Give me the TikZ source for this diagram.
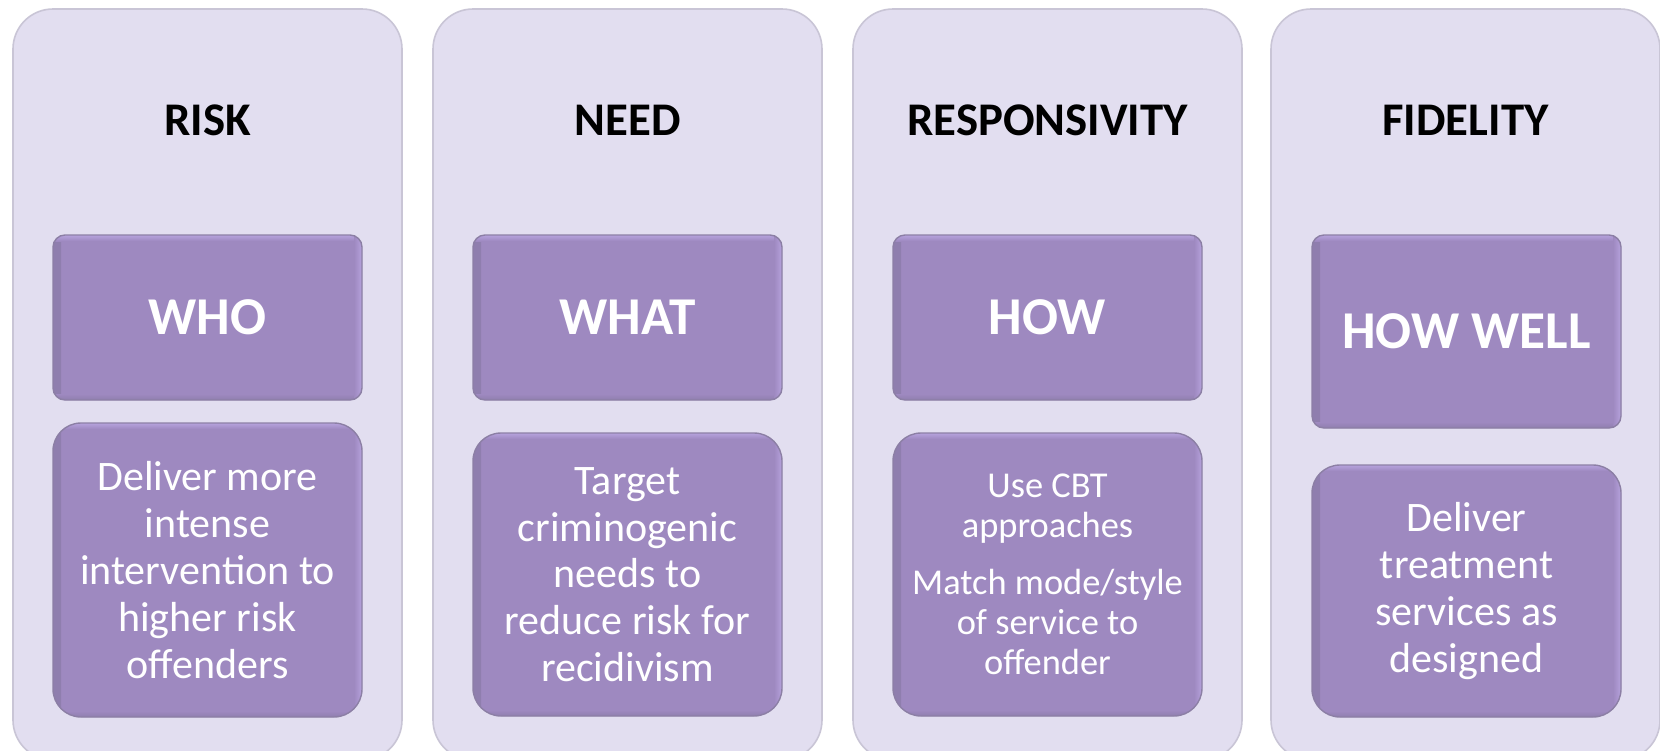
\documentclass[tikz,border=0pt]{standalone}
\usepackage{fontspec}
\setmainfont{Carlito}
\usepackage{tikz}

\definecolor{panel}{HTML}{E2DEF0}
\definecolor{panelline}{HTML}{C9C5D6}
\definecolor{pad}{HTML}{9E89C0}
\definecolor{padlight}{HTML}{B6A2DD}
\definecolor{paddark}{HTML}{8F7EAE}
\definecolor{padline}{HTML}{8C7FA5}

\tikzset{
  panel/.style={draw=panelline, line width=0.8pt, fill=panel, rounded corners=20pt,
    minimum width=194.5pt, minimum height=375.5pt, inner sep=0pt},
  heading/.style={anchor=base, text=black, font=\bfseries\fontsize{23.4}{28}\selectfont},
  pad/.style={fill=pad, draw=padline, line width=0.7pt, inner sep=0pt,
    minimum width=154.5pt, text=white, align=center,
    path picture={
      \shade[sharp corners, left color=paddark, right color=pad]
        (path picture bounding box.south west) rectangle ([xshift=4pt]path picture bounding box.north west);
      \shade[sharp corners, top color=pad, bottom color=paddark]
        (path picture bounding box.south west) rectangle ([yshift=3pt]path picture bounding box.south east);
      \shade[sharp corners, top color=padlight, bottom color=pad]
        ([yshift=-3pt]path picture bounding box.north west) rectangle (path picture bounding box.north east);
      \shade[sharp corners, left color=pad, right color=padlight]
        ([xshift=-4pt]path picture bounding box.south east) rectangle (path picture bounding box.north east);
    }},
  keyword/.style={pad, rounded corners=6pt, font=\bfseries\fontsize{26.6}{32}\selectfont},
  detail/.style={pad, rounded corners=14pt, font=\fontsize{21}{23.4}\selectfont},
}

\begin{document}
\begin{tikzpicture}[x=0.5pt,y=-0.5pt]
	\path[use as bounding box,fill=white] (0,0) rectangle (1660,750);

	% risk
	\node[panel] (riskpanel) at (207.5,384.5) {};
	\node[heading] (risktitle) at (207.5,135) {RISK};
	\node[keyword, minimum height=82.5pt] (who) at (207.5,317.5) {WHO};
	\node[detail, minimum height=147pt] (riskdetail) at (207.5,570)
		{Deliver more\\intense\\intervention to\\higher risk\\offenders};

	% need
	\node[panel] (needpanel) at (627.5,384.5) {};
	\node[heading] (needtitle) at (627.5,135) {NEED};
	\node[keyword, minimum height=82.5pt] (what) at (627.5,317.5) {WHAT};
	\node[detail, minimum height=141.5pt] (needdetail) at (627.5,574.5)
		{Target\\criminogenic\\needs to\\reduce risk for\\recidivism};

	% responsivity
	\node[panel] (resppanel) at (1047.5,384.5) {};
	\node[heading] (resptitle) at (1047.5,135) {RESPONSIVITY};
	\node[keyword, minimum height=82.5pt] (how) at (1047.5,317.5) {HOW};
	\node[detail, minimum height=141.5pt, font=\fontsize{18.2}{20}\selectfont] (respdetail) at (1047.5,574.5)
		{Use CBT\\approaches\\[8.5pt]Match mode/style\\of service to\\offender};

	% fidelity
	\node[panel] (fidpanel) at (1465.5,384.5) {};
	\node[heading] (fidtitle) at (1465.5,135) {FIDELITY};
	\node[keyword, minimum height=96.5pt] (howwell) at (1466.5,331.5) {HOW WELL};
	\node[detail, minimum height=126pt] (fiddetail) at (1466.5,591)
		{Deliver\\treatment\\services as\\designed};
\end{tikzpicture}
\end{document}
